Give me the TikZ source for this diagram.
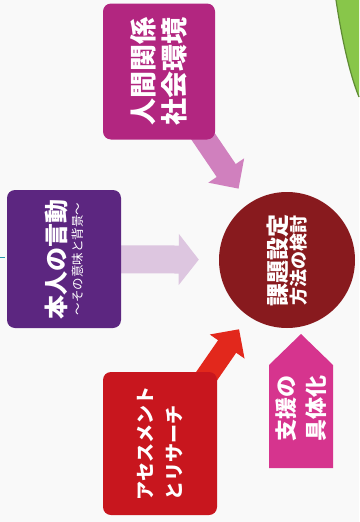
\documentclass[tikz,border=0pt]{standalone}
\usepackage{fontspec}
\newfontfamily\jpfont{Noto Sans CJK JP}
\usepackage{tikz}
\usetikzlibrary{shapes.geometric, arrows.meta, backgrounds}
\definecolor{cpaper}{RGB}{249,249,249}
\definecolor{cmagenta}{RGB}{178,38,128}
\definecolor{cpurple}{RGB}{92,38,128}
\definecolor{cdarkred}{RGB}{136,26,30}
\definecolor{cred}{RGB}{200,22,30}
\definecolor{cpink}{RGB}{214,52,142}
\definecolor{cmauve}{RGB}{208,128,190}
\definecolor{clilac}{RGB}{221,198,224}
\definecolor{cscarlet}{RGB}{226,40,28}
\definecolor{cleaf}{RGB}{136,198,74}
\definecolor{cteal}{RGB}{40,150,170}

\begin{document}
\begin{tikzpicture}[x=1pt,y=-1pt,
  font=\jpfont,
  box/.style={rounded corners=8pt,rotate=90,align=center,text=white,inner sep=0pt},
  arr/.style={-{Triangle[length=22pt,width=42pt]},shorten >=18pt}
]
  \useasboundingbox (0,0) rectangle (359,522);
  % the three sources and the goal
  \node[box,fill=cmagenta,minimum width=136pt,minimum height=112pt,
        font=\jpfont\bfseries\fontsize{27}{31}\selectfont] (people) at (159,71.5) {人間関係\\社会環境};
  \node[box,fill=cpurple,minimum width=138pt,minimum height=114pt,
        font=\jpfont\fontsize{12.5}{17}\selectfont] (talk) at (64,259)
        {{\bfseries\fontsize{24}{24}\selectfont 本人の言動}\\〜その意味と背景〜};
  \node[box,fill=cred,minimum width=143pt,minimum height=114pt,align=left,
        font=\jpfont\bfseries\fontsize{19}{29}\selectfont] (assess) at (160,443.5) {アセスメント\\とリサーチ};
  \node[circle,fill=cdarkred,minimum size=136pt,rotate=90,align=center,text=white,
        font=\jpfont\bfseries\fontsize{18}{18.6}\selectfont] (issue) at (287,260)
        {{\fontsize{23}{23}\selectfont 課題設定}\\方法の検討};
  % upward block arrow under the circle
  \fill[cpink] (269,468) -- (269,365) -- (301,334) -- (333,365) -- (333,468) -- cycle;
  \node[rotate=90,align=center,text=white,inner sep=0pt,
        font=\jpfont\bfseries\fontsize{22}{30}\selectfont] (plan) at (301,408) {支援の\\具体化};
  % leaf at the corner
  \fill[cleaf] (336,0) .. controls (342,40) and (350,75) .. (359,97) -- (359,0) -- cycle;
  \draw[cleaf!70!black,line width=1.2pt] (336,0) .. controls (342,40) and (350,75) .. (359,97);
  \draw[cteal,line width=1pt] (0,257) -- (5,257);
  \begin{scope}[on background layer]
    \fill[cpaper] (0,0) rectangle (359,522);
    \draw[arr,cmauve,line width=23pt] (people.center) -- (issue);
    \draw[arr,clilac,line width=28pt,-{Triangle[length=20pt,width=50pt]},shorten >=20pt] (talk.center) -- (issue);
    \draw[arr,cscarlet,line width=22pt,-{Triangle[length=21pt,width=41pt]},shorten >=16pt] (assess.center) -- (issue);
  \end{scope}
\end{tikzpicture}
\end{document}
